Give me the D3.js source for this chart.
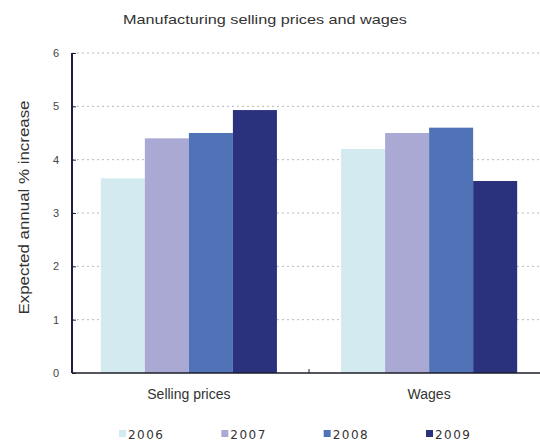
<!DOCTYPE html>
<html><head><meta charset="utf-8">
<script src="https://cdn.jsdelivr.net/npm/d3@7"></script>
<style>html,body{margin:0;padding:0;background:#fff;}svg{display:block;}</style>
</head><body>
<svg id="chart" width="540" height="441"></svg>
<script>
const categories = ["Selling prices", "Wages"];
const years = ["2006", "2007", "2008", "2009"];
const values2006 = [3.65, 4.2];
const values2007 = [4.4, 4.5];
const values2008 = [4.5, 4.6];
const values2009 = [4.93, 3.6];
const yTicks = [0, 1, 2, 3, 4, 5, 6];
const colors = ["#d3eaf0", "#a9a9d4", "#5073b8", "#2a317d"];

const series = [values2006, values2007, values2008, values2009];
const data = categories.map((c, i) => ({cat: c, vals: years.map((y, j) => ({year: y, v: series[j][i]}))}));

const svg = d3.select("#chart");
const plotLeft = 72, plotRight = 546, plotTop = 53, plotBottom = 373;

const x0 = d3.scaleBand().domain(categories).range([plotLeft, plotRight]).paddingInner(0.267).paddingOuter(0.12);
const x1 = d3.scaleBand().domain(years).range([0, x0.bandwidth()]);
const y = d3.scaleLinear().domain([0, 6]).range([plotBottom, plotTop]);
const color = d3.scaleOrdinal().domain(years).range(colors);

// title
svg.append("text").attr("x", 265).attr("y", 24).attr("text-anchor", "middle")
  .attr("font-family", "Liberation Sans, Arial, sans-serif").attr("font-size", 13)
  .attr("fill", "#333").attr("textLength", 284).attr("lengthAdjust", "spacingAndGlyphs")
  .text("Manufacturing selling prices and wages");

// gridlines
svg.append("g").selectAll("line").data(yTicks.filter(d => d > 0)).join("line")
  .attr("x1", plotLeft).attr("x2", 540).attr("y1", d => y(d)).attr("y2", d => y(d))
  .attr("stroke", "#b8b8b8").attr("stroke-width", 1).attr("stroke-dasharray", "2,3");

// bars
svg.append("g").selectAll("g").data(data).join("g")
  .attr("transform", d => `translate(${x0(d.cat)},0)`)
  .selectAll("rect").data(d => d.vals).join("rect")
  .attr("x", d => x1(d.year)).attr("width", x1.bandwidth())
  .attr("y", d => y(d.v)).attr("height", d => y(0) - y(d.v))
  .attr("fill", d => color(d.year));

// y axis
const yAxis = d3.axisLeft(y).tickValues(yTicks).tickSize(-4).tickPadding(13).tickFormat(d3.format("d"));
const gy = svg.append("g").attr("transform", `translate(${plotLeft},0)`).call(yAxis);
gy.select(".domain").attr("stroke", "#1c1c48").attr("stroke-width", 2).attr("d", `M0,${plotTop}V${plotBottom}`);
gy.selectAll(".tick line").attr("stroke", "#1c1c48").attr("stroke-width", 1);
gy.selectAll(".tick text").attr("font-family", "Liberation Sans, Arial, sans-serif").attr("font-size", 11).attr("fill", "#444");

// x axis
const xAxis = d3.axisBottom(x0).tickSize(0).tickPadding(16);
const gx = svg.append("g").attr("transform", `translate(0,${plotBottom})`).call(xAxis);
gx.select(".domain").attr("stroke", "#1c1c28").attr("stroke-width", 1.5).attr("d", `M${plotLeft},0H540`);
gx.selectAll(".tick text").attr("font-family", "Liberation Sans, Arial, sans-serif").attr("font-size", 14).attr("fill", "#333");
// divider tick between categories
const divX = (x0(categories[0]) + x0.bandwidth() + x0(categories[1])) / 2;
svg.append("line").attr("x1", divX).attr("x2", divX).attr("y1", plotBottom - 4).attr("y2", plotBottom)
  .attr("stroke", "#1c1c28").attr("stroke-width", 1);

// y label
svg.append("text").attr("transform", `translate(29,${(100 + 315) / 2}) rotate(-90)`)
  .attr("text-anchor", "middle").attr("font-family", "Liberation Sans, Arial, sans-serif")
  .attr("font-size", 15).attr("fill", "#333").attr("textLength", 214).attr("lengthAdjust", "spacingAndGlyphs")
  .text("Expected annual % increase");

// legend
const legendX = d3.scalePoint().domain(years).range([119, 426]);
const lg = svg.append("g").selectAll("g").data(years).join("g")
  .attr("transform", d => `translate(${legendX(d)},430)`);
lg.append("rect").attr("width", 7).attr("height", 7).attr("fill", d => color(d));
lg.append("text").attr("x", 9).attr("y", 8.5).attr("font-family", "DejaVu Sans, Verdana, sans-serif")
  .attr("font-size", 12).attr("fill", "#333")
  .attr("textLength", 35).attr("lengthAdjust", "spacing").text(d => d);
</script>
</body></html>
